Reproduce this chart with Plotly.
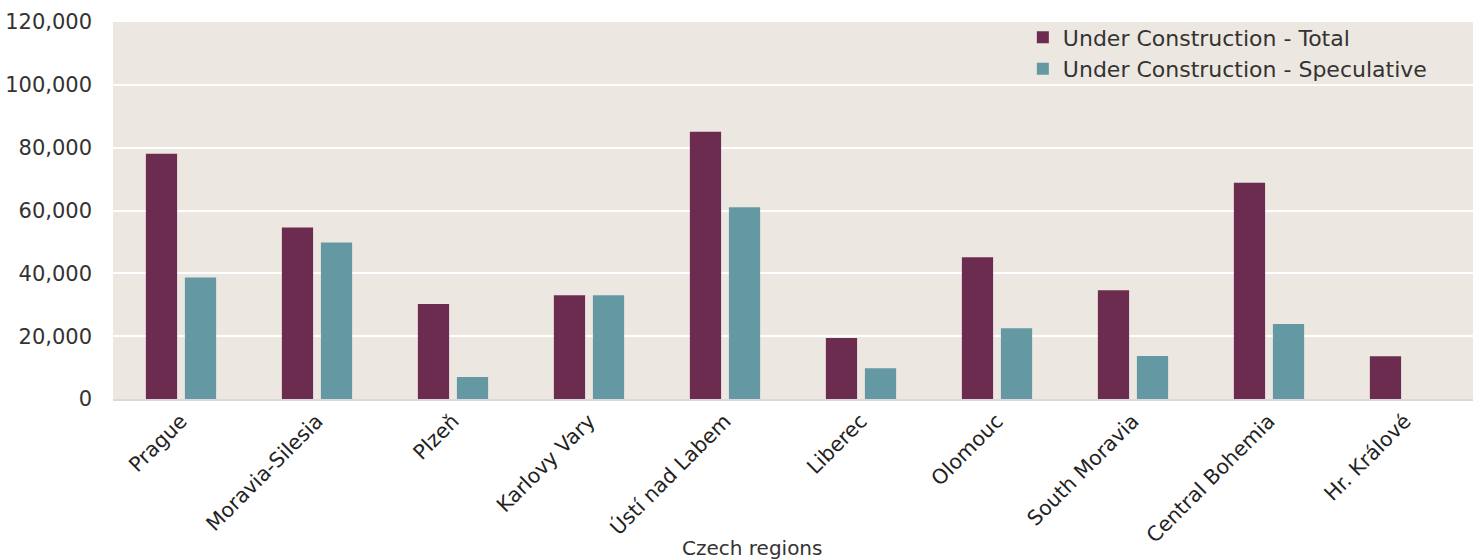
import plotly.graph_objects as go

regions = ["Prague", "Moravia-Silesia", "Plzeň", "Karlovy Vary", "Ústí nad Labem",
           "Liberec", "Olomouc", "South Moravia", "Central Bohemia", "Hr. Králové"]
total = [78100, 54600, 30200, 33000, 85100, 19400, 45100, 34600, 68800, 13600]
speculative = [38700, 49800, 7000, 33000, 61000, 9800, 22500, 13700, 23900, 0]
y_ticks = [0, 20000, 40000, 60000, 80000, 100000, 120000]

FONT = "DejaVu Sans"
fig = go.Figure()
fig.add_trace(go.Bar(x=regions, y=total, name="Under Construction - Total",
                     marker=dict(color="#6B2C4F", line=dict(width=0))))
fig.add_trace(go.Bar(x=regions, y=speculative, name="Under Construction - Speculative",
                     marker=dict(color="#6499A3", line=dict(width=0))))

fig.update_layout(
    width=1483, height=560,
    margin=dict(l=113, r=10, t=22, b=161),
    paper_bgcolor="white", plot_bgcolor="#EDE7E1",
    barmode="group", bargap=0.426, bargroupgap=0.2,
    font=dict(family=FONT, color="#333333"),
    showlegend=True,
    legend=dict(x=0.669, y=1.015, xanchor="left", yanchor="top",
                bgcolor="rgba(0,0,0,0)", font=dict(size=22, color="#333333"),
                itemwidth=30, tracegroupgap=0),
    xaxis=dict(tickangle=-45, tickfont=dict(size=20.5, color="#222222"),
               showgrid=False, showline=True, linecolor="#D9D9D9", linewidth=2,
               ticks=""),
    yaxis=dict(range=[0, 120000], tickvals=y_ticks, tickformat=",",
               tickfont=dict(size=21, color="#333333"),
               showgrid=True, gridcolor="white", gridwidth=2,
               zeroline=False, ticklabelstandoff=20, automargin=False),
    annotations=[dict(text="Czech regions", xref="paper", yref="paper",
                      x=0.47, y=-0.395, xanchor="center", yanchor="middle",
                      showarrow=False, font=dict(size=20, color="#333333"))],
)
# remove the default 8px page margin so the figure fills the window exactly
fig.write_html("out.html", config={"displayModeBar": False},
               post_script="document.body.style.margin='0';")
